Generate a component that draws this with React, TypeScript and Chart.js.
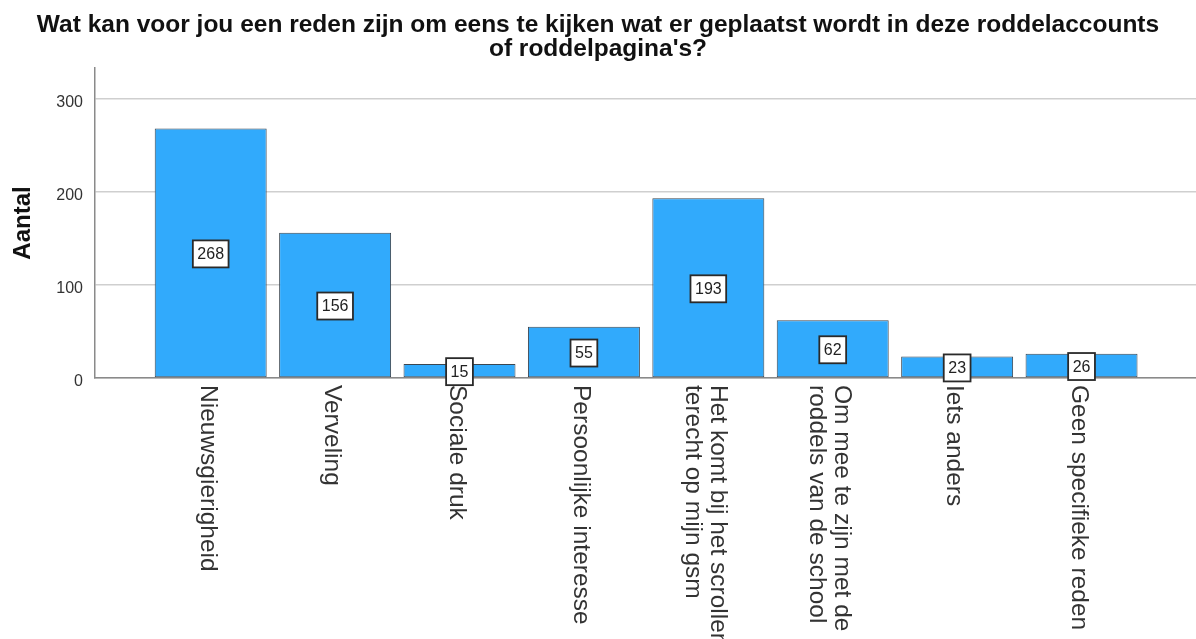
import React, { useEffect, useRef } from "react";
import { Chart, registerables } from "chart.js";

Chart.register(...registerables);

const titleLines = [
  "Wat kan voor jou een reden zijn om eens te kijken wat er geplaatst wordt in deze roddelaccounts",
  "of roddelpagina's?",
];
const categories: (string | string[])[] = [
  "Nieuwsgierigheid",
  "Verveling",
  "Sociale druk",
  "Persoonlijke interesse",
  ["Het komt bij het scrollen", "terecht op mijn gsm"],
  ["Om mee te zijn met de", "roddels van de school"],
  "Iets anders",
  "Geen specifieke reden",
];
const counts = [268, 156, 15, 55, 193, 62, 23, 26];
const yTicks = [0, 100, 200, 300];
const yAxisTitle = "Aantal";

const FONT = "'Liberation Sans', Arial, Helvetica, sans-serif";

const valueLabelPlugin = {
  id: "valueLabels",
  afterDatasetsDraw(chart: any) {
    const ctx = chart.ctx;
    const meta = chart.getDatasetMeta(0);
    ctx.save();
    ctx.font = `16px ${FONT}`;
    ctx.textAlign = "center";
    ctx.textBaseline = "middle";
    meta.data.forEach((bar: any, i: number) => {
      const txt = String(counts[i]);
      const cx = bar.x;
      const cy = (bar.y + bar.base) / 2 + 1;
      const w = ctx.measureText(txt).width + 9;
      const h = 27;
      ctx.fillStyle = "#ffffff";
      ctx.fillRect(cx - w / 2, cy - h / 2, w, h);
      ctx.lineWidth = 1.8;
      ctx.strokeStyle = "#2a2a2a";
      ctx.strokeRect(cx - w / 2, cy - h / 2, w, h);
      ctx.fillStyle = "#222222";
      ctx.fillText(txt, cx, cy + 1);
    });
    ctx.restore();
  },
};

const xLabelPlugin = {
  id: "xRotatedLabels",
  afterDraw(chart: any) {
    const ctx = chart.ctx;
    const xs = chart.scales.x;
    const lh = 25;
    ctx.save();
    ctx.font = `24.5px ${FONT}`;
    ctx.fillStyle = "#333333";
    ctx.textAlign = "left";
    ctx.textBaseline = "middle";
    categories.forEach((lab, i) => {
      const lines = Array.isArray(lab) ? lab : [lab];
      const px = xs.getPixelForValue(i) - 3;
      const py = xs.top + 7;
      ctx.save();
      ctx.translate(px, py);
      ctx.rotate(Math.PI / 2);
      lines.forEach((ln, k) => {
        const off = (k - (lines.length - 1) / 2) * lh;
        ctx.fillText(ln, 0, off);
      });
      ctx.restore();
    });
    ctx.restore();
  },
};

export default function App() {
  const ref = useRef<HTMLCanvasElement | null>(null);
  useEffect(() => {
    if (!ref.current) return;
    const chart = new Chart(ref.current, {
      type: "bar",
      data: {
        datasets: [
          {
            data: counts.map((v, i) => ({ x: i, y: v })),
            backgroundColor: "#31aafc",
            borderColor: "#3c4650",
            borderWidth: 1,
            borderSkipped: false,
            barPercentage: 0.9,
            categoryPercentage: 1.0,
          },
        ],
      },
      options: {
        animation: false,
        responsive: true,
        maintainAspectRatio: false,
        layout: { padding: { left: 0, right: 0, top: 0, bottom: 0 } },
        plugins: {
          legend: { display: false },
          tooltip: { enabled: false },
          title: {
            display: true,
            text: titleLines,
            color: "#111111",
            font: { family: FONT, size: 24.5, weight: "bold", lineHeight: 0.95 },
            padding: { top: 14, bottom: 7.5 },
          },
        },
        scales: {
          x: {
            type: "linear",
            min: -0.93,
            max: 7.92,
            offset: false,
            afterBuildTicks(scale: any) {
              scale.ticks = categories.map((_, i) => ({ value: i }));
            },
            grid: { display: false },
            border: { display: true, color: "#8a8a8a", width: 1.5 },
            ticks: { display: false },
            afterFit(scale: any) {
              scale.height = 261;
            },
          },
          y: {
            type: "linear",
            min: 0,
            max: 333,
            afterBuildTicks(scale: any) {
              scale.ticks = yTicks.map((v) => ({ value: v }));
            },
            ticks: {
              includeBounds: false,
              color: "#333333",
              font: { family: FONT, size: 16 },
              padding: 12,
              labelOffset: 4,
            },
            grid: { color: "#cfcfcf", lineWidth: 1.5, drawTicks: false },
            border: { display: true, color: "#8a8a8a", width: 1.5 },
            title: {
              display: true,
              text: yAxisTitle,
              color: "#111111",
              font: { family: FONT, size: 24, weight: "bold" },
              padding: { top: 9, bottom: 0 },
            },
            afterFit(scale: any) {
              scale.width = 95;
            },
          },
        },
      },
      plugins: [valueLabelPlugin, xLabelPlugin],
    } as any);
    return () => chart.destroy();
  }, []);
  return (
    <div
      style={{
        position: "fixed",
        left: 0,
        top: 0,
        width: 1196,
        height: 639,
        background: "#ffffff",
      }}
    >
      <canvas ref={ref} />
    </div>
  );
}
